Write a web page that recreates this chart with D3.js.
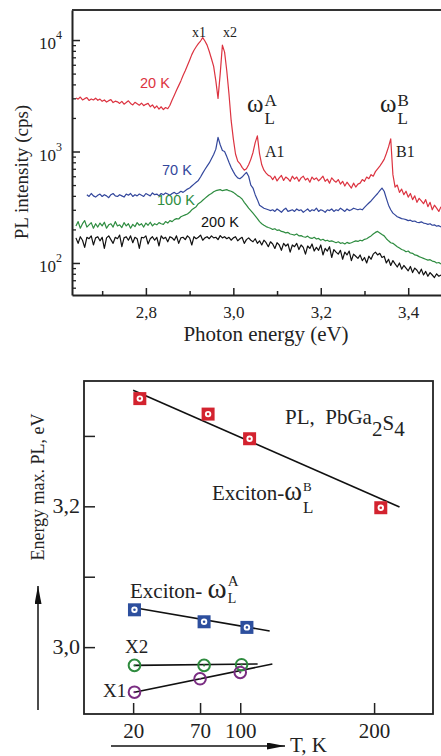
<!DOCTYPE html>
<html>
<head>
<meta charset="utf-8">
<script src="https://cdn.jsdelivr.net/npm/d3@7"></script>
<style>
body { margin: 0; background: #fff; }
svg { display: block; }
</style>
</head>
<body>
<svg id="chart" width="441" height="756"></svg>
<script>
// ---------- top panel: PL spectra (cps), sampled every 5 meV from 2.64 eV ----------
const energyStart = 2.64, energyStep = 0.005

const pl20K = [
  3020, 2950, 3080, 2900, 2980, 3050, 2870, 2960, 2900, 3010,
  2880, 2950, 2820, 2900, 2780, 2860, 2920, 2750, 2830, 2790,
  2700, 2820, 2660, 2750, 2850, 2700, 2620, 2760, 2680, 2600,
  2720, 2580, 2650, 2700, 2520, 2620, 2450, 2560, 2400, 2520,
  2380, 2480, 2420, 2600, 2900, 3200, 3550, 3900, 4300, 4800,
  5300, 5900, 6600, 7400, 8100, 8700, 9300, 9800, 10500, 9800,
  9000, 7900, 6800, 5800, 4300, 3000, 5000, 9000, 7800, 5300,
  3300, 1900, 1300, 950, 820, 780, 720, 680, 700, 760,
  850, 980, 1200, 1380, 950, 760, 680, 640, 610, 600,
  560, 600, 545, 580, 610, 550, 590, 570, 540, 600,
  565, 590, 540, 580, 600, 555, 575, 530, 590, 560,
  580, 545, 570, 600, 540, 565, 520, 580, 550, 530,
  560, 510, 540, 490, 530, 500, 470, 520, 480, 510,
  520, 560, 540, 590, 570, 620, 600, 660, 700, 740,
  790, 850, 960, 1100, 1300, 620, 480, 500, 430, 460,
  410, 440, 390, 420, 370, 400, 350, 380, 360, 340,
  370, 320, 350, 300, 330, 310, 290, 320
]
const pl70K = [
  null, null, null, null, null, 410, 395, 420, 400, 390,
  405, 415, 395, 410, 400, 385, 410, 420, 400, 395,
  410, 400, 390, 415, 405, 420, 395, 410, 400, 415,
  405, 395, 420, 410, 400, 425, 410, 415, 400, 420,
  410, 425, 415, 405, 420, 430, 415, 425, 440, 430,
  445, 460, 470, 490, 510, 530, 550, 590, 640, 690,
  740, 790, 860, 940, 1050, 1340, 1150, 1020, 1000, 900,
  800, 720, 660, 610, 580, 570, 590, 620, 650, 600,
  500, 470, 410, 370, 330, 320, 310, 305, 300, 295,
  300, 290, 305, 295, 285, 300, 310, 290, 295, 300,
  290, 305, 295, 300, 285, 295, 305, 290, 300, 295,
  310, 290, 300, 295, 285, 300, 295, 305, 290, 300,
  295, 310, 300, 290, 305, 295, 300, 310, 305, 300,
  305, 300, 315, 330, 345, 360, 380, 400, 420, 445,
  470, 440, 380, 330, 300, 280, 270, 260, 255, 250,
  248, 245, 240, 242, 236, 238, 232, 230, 234, 228,
  226, 222, 225, 218, 220, 214, 216, 210
]
const pl100K = [
  215, 235, 205, 225, 240, 210, 220, 230, 205, 225,
  210, 228, 215, 232, 205, 220, 225, 210, 235, 215,
  220, 208, 230, 215, 225, 205, 222, 212, 230, 218,
  225, 210, 228, 218, 232, 215, 225, 220, 230, 225,
  222, 235, 228, 240, 235, 245, 250, 248, 260, 265,
  270, 275, 285, 300, 310, 320, 340, 350, 365, 380,
  395, 410, 420, 435, 445, 450, 455, 445, 450, 455,
  445, 440, 430, 415, 400, 390, 375, 350, 330, 310,
  295, 280, 265, 250, 235, 225, 218, 212, 208, 205,
  200, 203, 196, 198, 192, 190, 186, 188, 182, 180,
  178, 182, 175, 176, 172, 170, 174, 168, 166, 170,
  164, 166, 160, 163, 158, 160, 156, 158, 155, 152,
  155, 150, 152, 148, 153, 150, 152, 155, 158, 156,
  160, 158, 163, 165, 170, 175, 182, 188, 192, 186,
  180, 175, 165, 158, 152, 150, 145, 140, 136, 132,
  130, 126, 128, 123, 122, 118, 117, 114, 112, 110,
  108, 106, 107, 104, 103, 100, 101, 98
]
const pl200K = [
  168, 150, 172, 160, 138, 170, 165, 175, 145, 168,
  172, 158, 170, 135, 168, 175, 162, 150, 170, 165,
  178, 140, 168, 172, 160, 175, 152, 170, 165, 135,
  170, 168, 175, 148, 165, 172, 160, 170, 142, 175,
  165, 170, 155, 172, 168, 160, 175, 150, 168, 170,
  162, 175, 168, 145, 172, 165, 170, 178, 160, 168,
  172, 165, 175, 168, 170, 162, 176, 168, 172, 165,
  170, 160, 168, 172, 158, 165, 170, 150, 162, 168,
  160, 155, 165, 150, 158, 145, 160, 152, 140, 155,
  148, 135, 152, 145, 130, 150, 142, 148, 125, 145,
  140, 150, 132, 145, 138, 120, 142, 135, 148, 128,
  138, 130, 145, 118, 135, 128, 140, 112, 132, 125,
  120, 130, 108, 125, 118, 128, 105, 120, 115, 110,
  118, 105, 112, 100, 115, 108, 120, 125, 118, 122,
  112, 115, 100, 108, 95, 105, 98, 92, 100, 88,
  95, 90, 85, 93, 82, 90, 86, 80, 88, 78,
  84, 76, 82, 78, 74, 80, 76, 78
]
const spectraNames = ['20 K', '70 K', '100 K', '200 K']
const spectraColors = ['#dc3340', '#33479c', '#2e8c40', '#111111']

const energyTicks = [2.8, 3.0, 3.2, 3.4]
const energyTickLabels = ['2,8', '3,0', '3,2', '3,4']
const energyMinorTicks = [2.7, 2.9, 3.1, 3.3]
const intensityTicks = [100, 1000, 10000]
const intensityExponents = ['2', '3', '4']
const intensityMinorTicks = [60, 70, 80, 90, 200, 300, 400, 500, 600, 700, 800, 900,
  2000, 3000, 4000, 5000, 6000, 7000, 8000, 9000]

// ---------- bottom panel: peak energy vs temperature ----------
const tempB = [25, 76, 107, 205]
const energyB = [3.353, 3.331, 3.296, 3.198]
const tempA = [21, 73, 105]
const energyA = [3.053, 3.036, 3.028]
const tempX2 = [21, 73, 101]
const energyX2 = [2.974, 2.974, 2.975]
const tempX1 = [21, 70, 100]
const energyX1 = [2.936, 2.955, 2.964]
const fitB = [[20, 3.365], [219, 3.199]]
const fitA = [[21, 3.056], [122, 3.023]]
const fitX2 = [[21, 2.974], [113, 2.976]]
const fitX1 = [[21, 2.936], [124, 2.976]]

const tempTicks = [20, 70, 100, 200]
const peakTicks = [3.0, 3.1, 3.2, 3.3]
const peakTickLabels = ['3,0', '', '3,2', '']

const SERIF = '"Liberation Serif", "Times New Roman", "DejaVu Serif", serif'
const SANS = '"Liberation Sans", Arial, sans-serif'
const INK = '#222'

const svg = d3.select('#chart')

function label(x, y, size, txt, family) {
  return svg.append('text').attr('x', x).attr('y', y)
    .style('font-family', family || SERIF).style('font-size', size + 'px')
    .attr('fill', INK).text(txt)
}

// ===== top panel =====
const topX = d3.scaleLinear().domain([2.631, 3.475]).range([72, 441])
const topY = d3.scaleLog().domain([51.6, 18600]).range([295, 10])

const defs = svg.append('defs')
defs.append('clipPath').attr('id', 'topclip')
  .append('rect').attr('x', 72).attr('y', 10).attr('width', 369).attr('height', 285)

const energyAt = i => energyStart + i * energyStep
const spectrumLine = d3.line()
  .defined(d => d != null)
  .x((d, i) => topX(energyAt(i)))
  .y(d => topY(d))

const spectra = [pl20K, pl70K, pl100K, pl200K]
const gCurves = svg.append('g').attr('clip-path', 'url(#topclip)')
// black first so the coloured ones sit on top
;[3, 2, 1, 0].forEach(k => {
  gCurves.append('path')
    .attr('d', spectrumLine(spectra[k]))
    .attr('fill', 'none')
    .attr('stroke', spectraColors[k])
    .attr('stroke-width', 1.2)
    .attr('stroke-linejoin', 'round')
})

// axes
const gx = svg.append('g').attr('transform', 'translate(0,295)')
  .call(d3.axisBottom(topX).tickValues(energyTicks)
    .tickFormat((d, i) => energyTickLabels[i])
    .tickSizeInner(-7).tickSizeOuter(0))
gx.select('.domain').attr('stroke', INK).attr('stroke-width', 2)
gx.selectAll('.tick line').attr('stroke', INK).attr('stroke-width', 1.5)
gx.selectAll('.tick text').style('font-family', SERIF).style('font-size', '17px')
  .attr('fill', INK).attr('dy', null).attr('y', 23)

const gxm = svg.append('g').attr('transform', 'translate(0,295)')
  .call(d3.axisBottom(topX).tickValues(energyMinorTicks).tickFormat('')
    .tickSizeInner(-4).tickSizeOuter(0))
gxm.select('.domain').remove()
gxm.selectAll('.tick line').attr('stroke', INK).attr('stroke-width', 1.5)

const gy = svg.append('g').attr('transform', 'translate(72,0)')
  .call(d3.axisLeft(topY).tickValues(intensityTicks).tickFormat('')
    .tickSizeInner(-8).tickSizeOuter(0))
gy.select('.domain').attr('stroke', INK).attr('stroke-width', 2)
gy.selectAll('.tick line').attr('stroke', INK).attr('stroke-width', 1.5)

const gym = svg.append('g').attr('transform', 'translate(72,0)')
  .call(d3.axisLeft(topY).tickValues(intensityMinorTicks).tickFormat('')
    .tickSizeInner(-4).tickSizeOuter(0))
gym.select('.domain').remove()
gym.selectAll('.tick line').attr('stroke', INK).attr('stroke-width', 1.3)

intensityTicks.forEach((v, i) => {
  const t = label(39, topY(v) + 9, 17, '10')
  t.append('tspan').attr('dy', -10).style('font-size', '12px').text(intensityExponents[i])
})

svg.append('line')
  .attr('x1', topX.range()[0]).attr('x2', topX.range()[1])
  .attr('y1', 10).attr('y2', 10)
  .attr('stroke', '#333').attr('stroke-width', 2)

label(266, 341, 21, 'Photon energy (eV)').attr('text-anchor', 'middle')
label(0, 0, 19, 'PL intensity (cps)')
  .attr('transform', 'translate(28,172) rotate(-90)').attr('text-anchor', 'middle')

// curve labels
const curveLabelPos = [[140, 88], [162, 175], [157, 205], [201, 227]]
spectraNames.forEach((n, k) => {
  label(curveLabelPos[k][0], curveLabelPos[k][1], 14.5, n, SANS)
    .attr('fill', spectraColors[k])
})

label(192, 37, 14, 'x1')
label(223, 37, 14, 'x2')
label(265, 157, 16, 'A1')
label(396, 157, 16, 'B1')

function omegaLabel(x, y, prefix, sup, o) {
  const t = label(x, y, o.fs, null)
  if (prefix) t.append('tspan').text(prefix)
  t.append('tspan').style('font-size', o.ws + 'px').text('ω')
  const end = x + t.node().getComputedTextLength() + 1
  label(end, y + o.supDy, o.supFs, sup)
  label(end, y + o.subDy, o.subFs, 'L')
}

omegaLabel(247, 112, '', 'A', { fs: 24, ws: 25, supDy: -6, supFs: 17, subDy: 12, subFs: 17 })
omegaLabel(380, 112, '', 'B', { fs: 24, ws: 25, supDy: -6, supFs: 17, subDy: 12, subFs: 17 })

// ===== bottom panel =====
const botX = d3.scaleLinear().domain([-16.7, 244]).range([84, 433])
const botY = d3.scaleLinear().domain([2.905, 3.378]).range([714, 381])

svg.append('rect').attr('x', 84).attr('y', 381).attr('width', 349).attr('height', 333)
  .attr('fill', 'none').attr('stroke', INK).attr('stroke-width', 1.8)

const bx = svg.append('g').attr('transform', 'translate(0,714)')
  .call(d3.axisBottom(botX).tickValues(tempTicks).tickSizeInner(-11).tickSizeOuter(0))
bx.select('.domain').remove()
bx.selectAll('.tick line').attr('stroke', INK).attr('stroke-width', 1.5)
bx.selectAll('.tick text').style('font-family', SERIF).style('font-size', '21px')
  .attr('fill', INK).attr('dy', null).attr('y', 24)

const by = svg.append('g').attr('transform', 'translate(84,0)')
  .call(d3.axisLeft(botY).tickValues(peakTicks)
    .tickFormat((d, i) => peakTickLabels[i])
    .tickSizeInner(-11).tickSizeOuter(0).tickPadding(4))
by.select('.domain').remove()
by.selectAll('.tick line').attr('stroke', INK).attr('stroke-width', 1.5)
by.selectAll('.tick text').style('font-family', SERIF).style('font-size', '22px')
  .attr('fill', INK).attr('dy', null).attr('y', 6)

const fitLine = d3.line().x(d => botX(d[0])).y(d => botY(d[1]))
;[fitB, fitA, fitX2, fitX1].forEach(f => {
  svg.append('path').attr('d', fitLine(f)).attr('fill', 'none')
    .attr('stroke', '#111').attr('stroke-width', 1.6)
})

function squares(temps, energies, color) {
  const g = svg.append('g').selectAll('g').data(temps).join('g')
    .attr('transform', (d, i) => `translate(${botX(d)},${botY(energies[i])})`)
  g.append('rect').attr('x', -6.5).attr('y', -6.5).attr('width', 13).attr('height', 13)
    .attr('fill', color)
  g.append('circle').attr('r', 3.2).attr('fill', '#fff')
  g.append('circle').attr('r', 1.3).attr('fill', color)
}
function circles(temps, energies, color) {
  const g = svg.append('g').selectAll('g').data(temps).join('g')
    .attr('transform', (d, i) => `translate(${botX(d)},${botY(energies[i])})`)
  g.append('circle').attr('r', 5.8).attr('fill', 'none')
    .attr('stroke', color).attr('stroke-width', 2)
  g.append('circle').attr('r', 1.1).attr('fill', color)
}
squares(tempB, energyB, '#d3232f')
squares(tempA, energyA, '#2d4f9e')
circles(tempX2, energyX2, '#2e8b3e')
circles(tempX1, energyX1, '#7a2d82')

// annotations
const pl = label(285, 424, 21, null)
pl.append('tspan').text('PL,\u00a0\u00a0PbGa')
pl.append('tspan').attr('dy', 12).text('2')
pl.append('tspan').attr('dy', -6).text('S')
pl.append('tspan').attr('dy', 6).text('4')

omegaLabel(212, 500, 'Exciton-', 'B', { fs: 21, ws: 27, supDy: -9, supFs: 13, subDy: 13, subFs: 17 })
omegaLabel(130, 598, 'Exciton-\u00a0', 'A', { fs: 21, ws: 29, supDy: -12, supFs: 15, subDy: 5, subFs: 14 })

label(125, 653, 19, 'X2')
label(103, 697, 19, 'X1')

// arrows
defs.append('marker').attr('id', 'arrowH')
  .attr('viewBox', '0 0 10 10').attr('refX', 10).attr('refY', 5)
  .attr('markerUnits', 'userSpaceOnUse').attr('markerWidth', 18).attr('markerHeight', 7)
  .attr('preserveAspectRatio', 'none').attr('orient', 'auto')
  .append('path').attr('d', 'M0,0 L10,5 L0,10 z').attr('fill', '#111')

svg.append('line').attr('x1', 111).attr('x2', 285).attr('y1', 746).attr('y2', 746)
  .attr('stroke', '#111').attr('stroke-width', 1.5).attr('marker-end', 'url(#arrowH)')
label(290, 752, 21, 'T, K')

svg.append('line').attr('x1', 38).attr('x2', 38).attr('y1', 710).attr('y2', 586)
  .attr('stroke', '#111').attr('stroke-width', 1.5).attr('marker-end', 'url(#arrowH)')
label(0, 0, 18, 'Energy max. PL, eV')
  .attr('transform', 'translate(44,487) rotate(-90)').attr('text-anchor', 'middle')
</script>
</body>
</html>
